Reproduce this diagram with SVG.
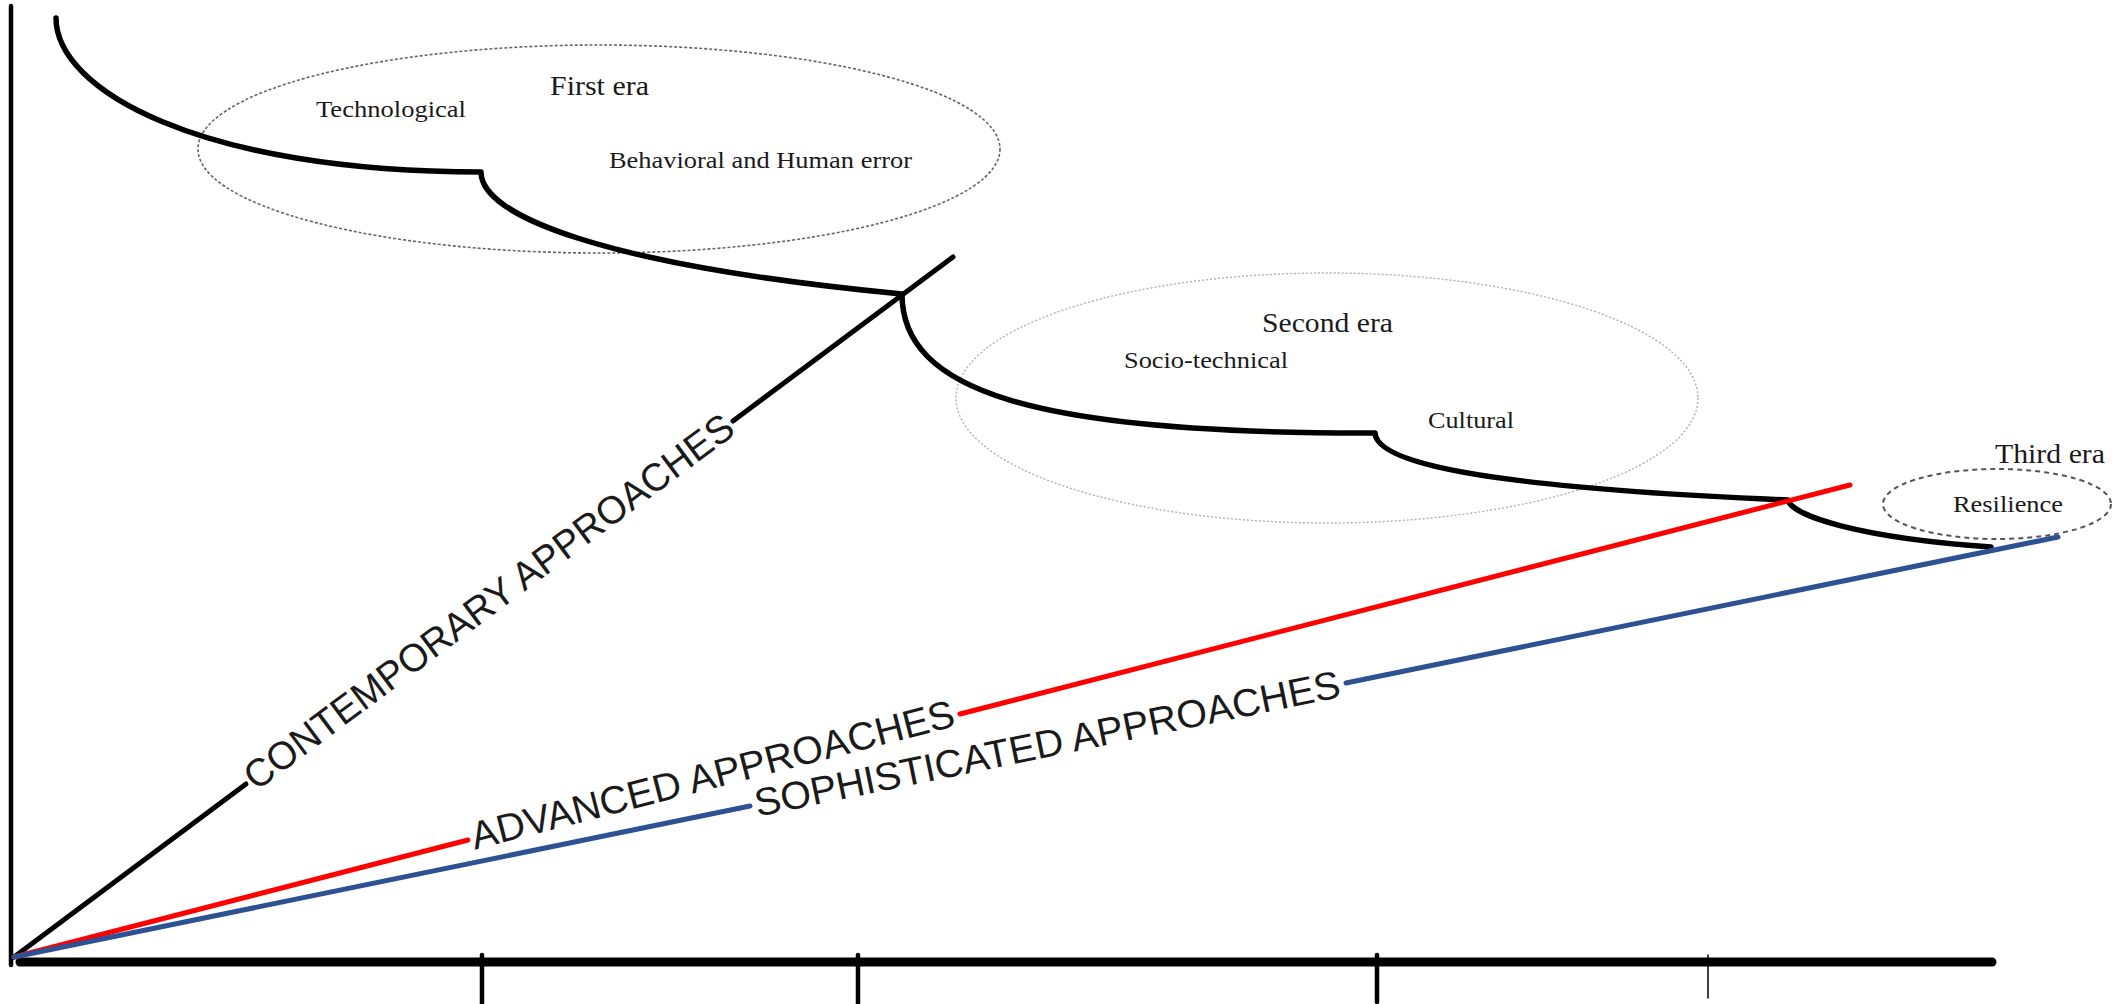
<svg xmlns="http://www.w3.org/2000/svg" width="2112" height="1004" viewBox="0 0 2112 1004">
  <style>
    .era-title { font-family: "Liberation Serif", "Times New Roman", serif; font-size: 27px; fill: #1a1a1a; }
    .era-item { font-family: "Liberation Serif", "Times New Roman", serif; font-size: 23px; fill: #1a1a1a; }
    .approach { font-family: "Liberation Sans", Arial, sans-serif; font-size: 39px; fill: #1a1a1a; }
    .axis { stroke: #000; fill: none; stroke-linecap: round; }
    .era-path { stroke: #000; stroke-width: 5.5; fill: none; stroke-linejoin: round; stroke-linecap: round; }
    .ray { fill: none; stroke-width: 5; stroke-linecap: round; }
  </style>

  <rect width="2112" height="1004" fill="#fff"/>

  <!-- axes with tick marks -->
  <g id="axes">
    <line class="axis" x1="11" y1="6" x2="11" y2="965" stroke-width="4.5"/>
    <line class="axis" x1="20" y1="962" x2="1992" y2="962" stroke-width="9"/>
    <line class="axis" x1="482" y1="955" x2="482" y2="1004" stroke-width="4.5"/>
    <line class="axis" x1="858" y1="955" x2="858" y2="1004" stroke-width="4.5"/>
    <line class="axis" x1="1377" y1="955" x2="1377" y2="1002" stroke-width="4.5"/>
    <line class="axis" x1="1708" y1="955" x2="1708" y2="998" stroke-width="1.5"/>
  </g>

  <!-- era groupings -->
  <g id="first-era">
    <ellipse cx="599" cy="149" rx="401" ry="104" fill="none" stroke="#666" stroke-width="1.6" stroke-dasharray="3 2"/>
    <text class="era-title" x="550" y="95" textLength="99" lengthAdjust="spacingAndGlyphs">First era</text>
    <text class="era-item" x="316" y="117" textLength="150" lengthAdjust="spacingAndGlyphs">Technological</text>
    <text class="era-item" x="609" y="168" textLength="303" lengthAdjust="spacingAndGlyphs">Behavioral and Human error</text>
  </g>

  <g id="second-era">
    <ellipse cx="1327" cy="398" rx="371" ry="125" fill="none" stroke="#b0b0b0" stroke-width="1.4" stroke-dasharray="2 2"/>
    <text class="era-title" x="1262" y="332" textLength="131" lengthAdjust="spacingAndGlyphs">Second era</text>
    <text class="era-item" x="1124" y="368" textLength="164" lengthAdjust="spacingAndGlyphs">Socio-technical</text>
    <text class="era-item" x="1428" y="428" textLength="86" lengthAdjust="spacingAndGlyphs">Cultural</text>
  </g>

  <g id="third-era">
    <ellipse cx="1997" cy="504" rx="114" ry="35" fill="none" stroke="#555" stroke-width="2" stroke-dasharray="5 4"/>
    <text class="era-title" x="1995" y="463" textLength="110" lengthAdjust="spacingAndGlyphs">Third era</text>
    <text class="era-item" x="1953" y="512" textLength="110" lengthAdjust="spacingAndGlyphs">Resilience</text>
  </g>

  <!-- evolution curve and approach rays -->
  <g id="connectors">
    <path class="era-path" d="M56,18 C56,90 200,172 481,172 C481,215 600,265 902,294 C902,390 1030,434 1375,433 C1377,465 1500,488 1788,500 C1792,516 1860,538 1991,547"/>

    <line class="ray" stroke="#000" x1="14" y1="957" x2="246" y2="784"/>
    <line class="ray" stroke="#000" x1="733" y1="421" x2="953" y2="257"/>

    <line class="ray" stroke="#ff0000" x1="14" y1="957" x2="468" y2="840"/>
    <line class="ray" stroke="#ff0000" x1="960" y1="714" x2="1850" y2="485"/>

    <line class="ray" stroke="#2d5193" x1="14" y1="957" x2="750" y2="806"/>
    <line class="ray" stroke="#2d5193" x1="1346" y1="683" x2="2058" y2="537"/>
  </g>

  <!-- approach labels set along the rays -->
  <g id="approach-labels">
    <text class="approach" transform="translate(249,782) rotate(-36.7)" x="0" y="12" textLength="600" lengthAdjust="spacingAndGlyphs">CONTEMPORARY APPROACHES</text>
    <text class="approach" transform="translate(472,839) rotate(-14.42)" x="0" y="11" textLength="498" lengthAdjust="spacingAndGlyphs">ADVANCED APPROACHES</text>
    <text class="approach" transform="translate(755,805) rotate(-11.61)" x="0" y="12" textLength="597" lengthAdjust="spacingAndGlyphs">SOPHISTICATED APPROACHES</text>
  </g>
</svg>
